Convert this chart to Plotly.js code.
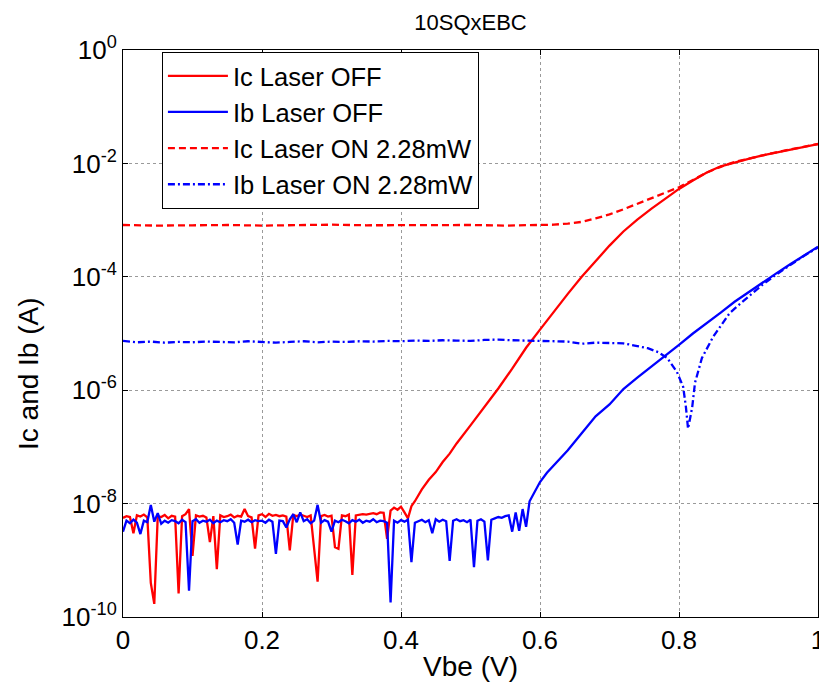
<!DOCTYPE html>
<html>
<head>
<meta charset="utf-8">
<script src="https://cdn.plot.ly/plotly-3.0.1.min.js"></script>
<style>html,body{margin:0;padding:0;background:#fff;}#chart{width:819px;height:687px;}</style>
</head>
<body>
<div id="chart"></div>
<script>
// ---- data (Vbe in V, currents in A) ----
const seriesNames = ['Ic Laser OFF', 'Ib Laser OFF', 'Ic Laser ON 2.28mW', 'Ib Laser ON 2.28mW'];

const icOffV = [0,0.005,0.01,0.015,0.02,0.025,0.03,0.035,0.04,0.045,0.05,0.055,0.06,0.065,0.07,0.075,0.08,0.085,0.09,0.095,
  0.1,0.105,0.11,0.115,0.12,0.125,0.13,0.135,0.14,0.145,0.15,0.155,0.16,0.165,0.17,0.175,0.18,0.185,0.19,0.195,
  0.2,0.205,0.21,0.215,0.22,0.225,0.23,0.235,0.24,0.245,0.25,0.255,0.26,0.265,0.27,0.275,0.28,0.285,0.29,0.295,
  0.3,0.305,0.31,0.315,0.32,0.325,0.33,0.335,0.34,0.345,0.35,0.355,0.36,0.365,0.37,0.375,0.38,0.385,0.39,0.395,
  0.4,0.405,0.41,0.415,
  0.42,0.43,0.44,0.45,0.46,0.47,0.48,0.5,0.52,0.54,0.56,0.58,0.6,0.62,0.64,0.66,0.68,0.7,0.72,0.74,0.76,0.78,
  0.8,0.82,0.84,0.86,0.88,0.9,0.92,0.94,0.96,0.98,1.0];
const icOffI = [5.6e-9,6.0e-9,5.8e-9,3.0e-9,6.2e-9,5.9e-9,6.4e-9,5.7e-9,4.0e-10,1.7e-10,6.0e-9,5.8e-9,6.3e-9,5.5e-9,6.1e-9,5.9e-9,2.6e-10,6.0e-9,6.5e-9,8.0e-9,
  1.2e-9,6.2e-9,5.9e-9,6.1e-9,5.7e-9,2.1e-9,6.0e-9,7.0e-10,6.2e-9,5.8e-9,6.0e-9,6.4e-9,5.7e-9,6.1e-9,5.9e-9,8.0e-9,6.0e-9,5.7e-9,1.6e-9,6.2e-9,
  6.5e-9,5.8e-9,6.6e-9,6.1e-9,6.3e-9,6.0e-9,6.2e-9,5.9e-9,1.5e-9,6.3e-9,6.0e-9,6.4e-9,6.1e-9,5.8e-9,6.2e-9,1.7e-9,4.2e-10,6.0e-9,6.3e-9,5.9e-9,
  6.1e-9,1.7e-9,1.6e-9,6.2e-9,6.0e-9,6.4e-9,5.5e-10,6.2e-9,6.3e-9,6.5e-9,6.4e-9,6.6e-9,6.8e-9,6.5e-9,7.0e-9,6.9e-9,2.4e-9,7.5e-9,8.5e-9,7.8e-9,
  8.8e-9,7.0e-9,5.5e-9,9.0e-9,
  1.1e-8,1.78e-8,2.63e-8,3.6e-8,5.4e-8,7.6e-8,1.15e-7,2.4e-7,5.0e-7,1.07e-6,2.4e-6,5.6e-6,1.17e-5,2.45e-5,5.0e-5,1.0e-4,1.9e-4,3.55e-4,6.3e-4,1.02e-3,1.58e-3,2.4e-3,
  3.55e-3,5.0e-3,6.9e-3,8.9e-3,1.05e-2,1.2e-2,1.38e-2,1.55e-2,1.74e-2,1.95e-2,2.19e-2];

const ibOffV = [0,0.005,0.01,0.015,0.02,0.025,0.03,0.035,0.04,0.045,0.05,0.055,0.06,0.065,0.07,0.075,0.08,0.085,0.09,0.095,
  0.1,0.105,0.11,0.115,0.12,0.125,0.13,0.135,0.14,0.145,0.15,0.155,0.16,0.165,0.17,0.175,0.18,0.185,0.19,0.195,
  0.2,0.205,0.21,0.215,0.22,0.225,0.23,0.235,0.24,0.245,0.25,0.255,0.26,0.265,0.27,0.275,0.28,0.285,0.29,0.295,
  0.3,0.305,0.31,0.315,0.32,0.325,0.33,0.335,0.34,0.345,0.35,0.355,0.36,0.365,0.37,0.375,0.38,0.385,0.39,0.395,
  0.4,0.405,0.41,0.415,0.42,0.425,0.43,0.435,0.44,0.445,0.45,0.455,0.46,0.465,0.47,0.475,0.48,0.485,0.49,0.495,
  0.5,0.505,0.51,0.515,0.52,0.525,0.53,0.535,0.54,0.545,0.55,0.555,0.56,0.565,0.57,0.575,0.58,0.585,
  0.59,0.6,0.61,0.62,0.63,0.64,0.66,0.68,0.7,0.72,0.74,0.76,0.78,0.8,0.82,0.84,0.86,0.88,0.9,0.92,0.94,0.96,0.98,1.0];
const ibOffI = [3.2e-9,5.0e-9,4.5e-9,5.2e-9,4.6e-9,2.9e-9,5.0e-9,4.7e-9,9.5e-9,4.8e-9,6.8e-9,4.4e-9,5.0e-9,4.6e-9,5.1e-9,4.9e-9,4.5e-9,5.2e-9,4.7e-9,2.9e-10,
  4.9e-9,5.3e-9,4.6e-9,5.0e-9,4.8e-9,5.2e-9,4.5e-9,5.0e-9,4.7e-9,5.1e-9,4.9e-9,5.3e-9,4.6e-9,1.9e-9,5.0e-9,4.8e-9,5.2e-9,4.7e-9,5.1e-9,4.9e-9,
  5.0e-9,4.6e-9,5.2e-9,4.8e-9,1.3e-9,5.0e-9,4.9e-9,3.8e-9,5.3e-9,6.5e-9,4.7e-9,7.0e-9,4.9e-9,5.3e-9,4.5e-9,5.0e-9,9.5e-9,4.6e-9,5.1e-9,4.8e-9,
  3.2e-9,5.0e-9,4.7e-9,5.2e-9,4.9e-9,4.5e-9,5.1e-9,4.8e-9,5.2e-9,4.6e-9,5.0e-9,4.8e-9,5.3e-9,4.7e-9,5.0e-9,4.9e-9,4.6e-9,1.8e-10,5.0e-9,4.6e-9,
  5.1e-9,4.8e-9,5.2e-9,9.3e-10,4.6e-9,4.9e-9,5.2e-9,4.7e-9,5.1e-9,3.0e-9,5.3e-9,4.8e-9,5.2e-9,4.9e-9,9.8e-10,5.0e-9,5.3e-9,4.9e-9,5.1e-9,4.7e-9,
  5.2e-9,7.6e-10,5.0e-9,5.3e-9,4.8e-9,1.0e-9,5.2e-9,5.5e-9,5.8e-9,5.6e-9,6.0e-9,6.2e-9,3.2e-9,7.0e-9,3.3e-9,8.0e-9,3.9e-9,1.1e-8,
  1.4e-8,2.4e-8,3.5e-8,4.7e-8,6.3e-8,8.7e-8,1.74e-7,3.47e-7,5.6e-7,1.05e-6,1.66e-6,2.57e-6,3.98e-6,6.3e-6,1.0e-5,1.51e-5,2.34e-5,3.63e-5,5.37e-5,7.94e-5,1.15e-4,1.66e-4,2.4e-4,3.39e-4];

const icOnV = [0,0.05,0.1,0.15,0.2,0.25,0.3,0.35,0.4,0.45,0.5,0.55,0.6,0.62,0.64,0.66,0.68,0.7,0.72,0.74,0.76,0.78,0.8,0.82,0.84,0.86,0.88,0.9,0.92,0.94,0.96,0.98,1.0];
const icOnI = [8.2e-4,8.0e-4,8.1e-4,8.2e-4,8.0e-4,8.1e-4,8.3e-4,8.1e-4,8.2e-4,8.1e-4,8.2e-4,8.0e-4,8.1e-4,8.3e-4,8.7e-4,9.3e-4,1.07e-3,1.26e-3,1.55e-3,1.95e-3,2.45e-3,3.1e-3,3.8e-3,5.1e-3,6.9e-3,8.7e-3,1.06e-2,1.21e-2,1.39e-2,1.57e-2,1.76e-2,1.97e-2,2.2e-2];

const ibOnV = [0,0.02,0.04,0.06,0.08,0.1,0.12,0.14,0.16,0.18,0.2,0.22,0.24,0.26,0.28,0.3,0.32,0.34,0.36,0.38,
  0.4,0.42,0.44,0.46,0.48,0.5,0.52,0.54,0.56,0.58,0.6,0.62,0.64,0.66,0.68,0.7,0.72,
  0.74,0.755,0.77,0.783,0.797,0.806,0.81,0.813,0.816,0.819,0.823,0.833,0.849,0.873,0.891,0.92,0.94,0.96,0.98,1.0];
const ibOnI = [7.4e-6,7.0e-6,7.2e-6,6.9e-6,7.1e-6,7.0e-6,7.2e-6,7.1e-6,7.0e-6,7.3e-6,7.2e-6,6.9e-6,7.1e-6,7.3e-6,7.0e-6,7.2e-6,7.1e-6,7.3e-6,7.2e-6,7.4e-6,
  7.3e-6,7.5e-6,7.4e-6,7.6e-6,7.5e-6,7.4e-6,7.7e-6,7.8e-6,7.6e-6,7.5e-6,7.4e-6,7.3e-6,7.2e-6,6.6e-6,6.9e-6,6.8e-6,6.7e-6,
  6.0e-6,5.5e-6,4.7e-6,3.7e-6,2.1e-6,1.15e-6,5.0e-7,2.1e-7,3.2e-7,5.0e-7,1.35e-6,3.7e-6,8.7e-6,2.3e-5,3.6e-5,7.2e-5,1.1e-4,1.62e-4,2.35e-4,3.3e-4];

const yTickVals = [1e-10,1e-8,1e-6,1e-4,1e-2,1];
const yTickText = ['10<sup>-10</sup>','10<sup>-8</sup>','10<sup>-6</sup>','10<sup>-4</sup>','10<sup>-2</sup>','10<sup>0</sup>'];
const xTickVals = [0,0.2,0.4,0.6,0.8,1];
const xTickText = ['0','0.2','0.4','0.6','0.8','1'];
const titleText = '10SQxEBC', xTitleText = 'Vbe (V)', yTitleText = 'Ic and Ib (A)';

const RED = '#ff0000', BLUE = '#0000ff';
const traces = [
  {x: icOffV, y: icOffI, name: seriesNames[0], mode: 'lines', line: {color: RED, width: 2.3}},
  {x: ibOffV, y: ibOffI, name: seriesNames[1], mode: 'lines', line: {color: BLUE, width: 2.3}},
  {x: icOnV, y: icOnI, name: seriesNames[2], mode: 'lines', line: {color: RED, width: 2.3, dash: '7px,4px'}},
  {x: ibOnV, y: ibOnI, name: seriesNames[3], mode: 'lines', line: {color: BLUE, width: 2.3, dash: '7px,3px,2px,3px'}}
];

const FONT = 'Arial, "Liberation Sans", Helvetica, sans-serif';
const axisCommon = {
  showline: true, linecolor: '#000', linewidth: 1, mirror: 'ticks',
  ticks: 'inside', ticklen: 5, tickcolor: '#000', tickwidth: 1,
  showgrid: true, gridcolor: '#9a9a9a', gridwidth: 1, griddash: 'dot',
  zeroline: false, ticklabeloverflow: 'allow', tickfont: {family: FONT, size: 26, color: '#000'}
};
const layout = {
  width: 819, height: 687,
  margin: {l: 123, r: 1, t: 50, b: 70},
  paper_bgcolor: '#fff', plot_bgcolor: '#fff',
  font: {family: FONT, color: '#000', size: 26},
  showlegend: true,
  title: {text: titleText, font: {family: FONT, size: 22, color: '#000'}, x: 0.5, xref: 'paper', xanchor: 'center', y: 1 - 22/687, yref: 'container', yanchor: 'middle'},
  xaxis: Object.assign({}, axisCommon, {range: [0, 1], tickvals: xTickVals, ticktext: xTickText,
    title: {text: xTitleText, font: {family: FONT, size: 28, color: '#000'}, standoff: 2}}),
  yaxis: Object.assign({}, axisCommon, {type: 'log', range: [-10, 0], tickvals: yTickVals, ticktext: yTickText}),
  annotations: [
    {text: yTitleText, textangle: -90, showarrow: false, xref: 'paper', yref: 'paper',
     x: -0.137, y: 0.43, xanchor: 'center', yanchor: 'middle', font: {family: FONT, size: 28, color: '#000'}}
  ],
  legend: {x: 0.056, y: 0.997, xanchor: 'left', yanchor: 'top', bgcolor: '#fff', bordercolor: '#000', borderwidth: 1,
    font: {family: FONT, size: 25.5, color: '#000'}, tracegroupgap: 0, itemwidth: 60}
};
Plotly.newPlot('chart', traces, layout, {displayModeBar: false, staticPlot: true});
</script>
</body>
</html>
